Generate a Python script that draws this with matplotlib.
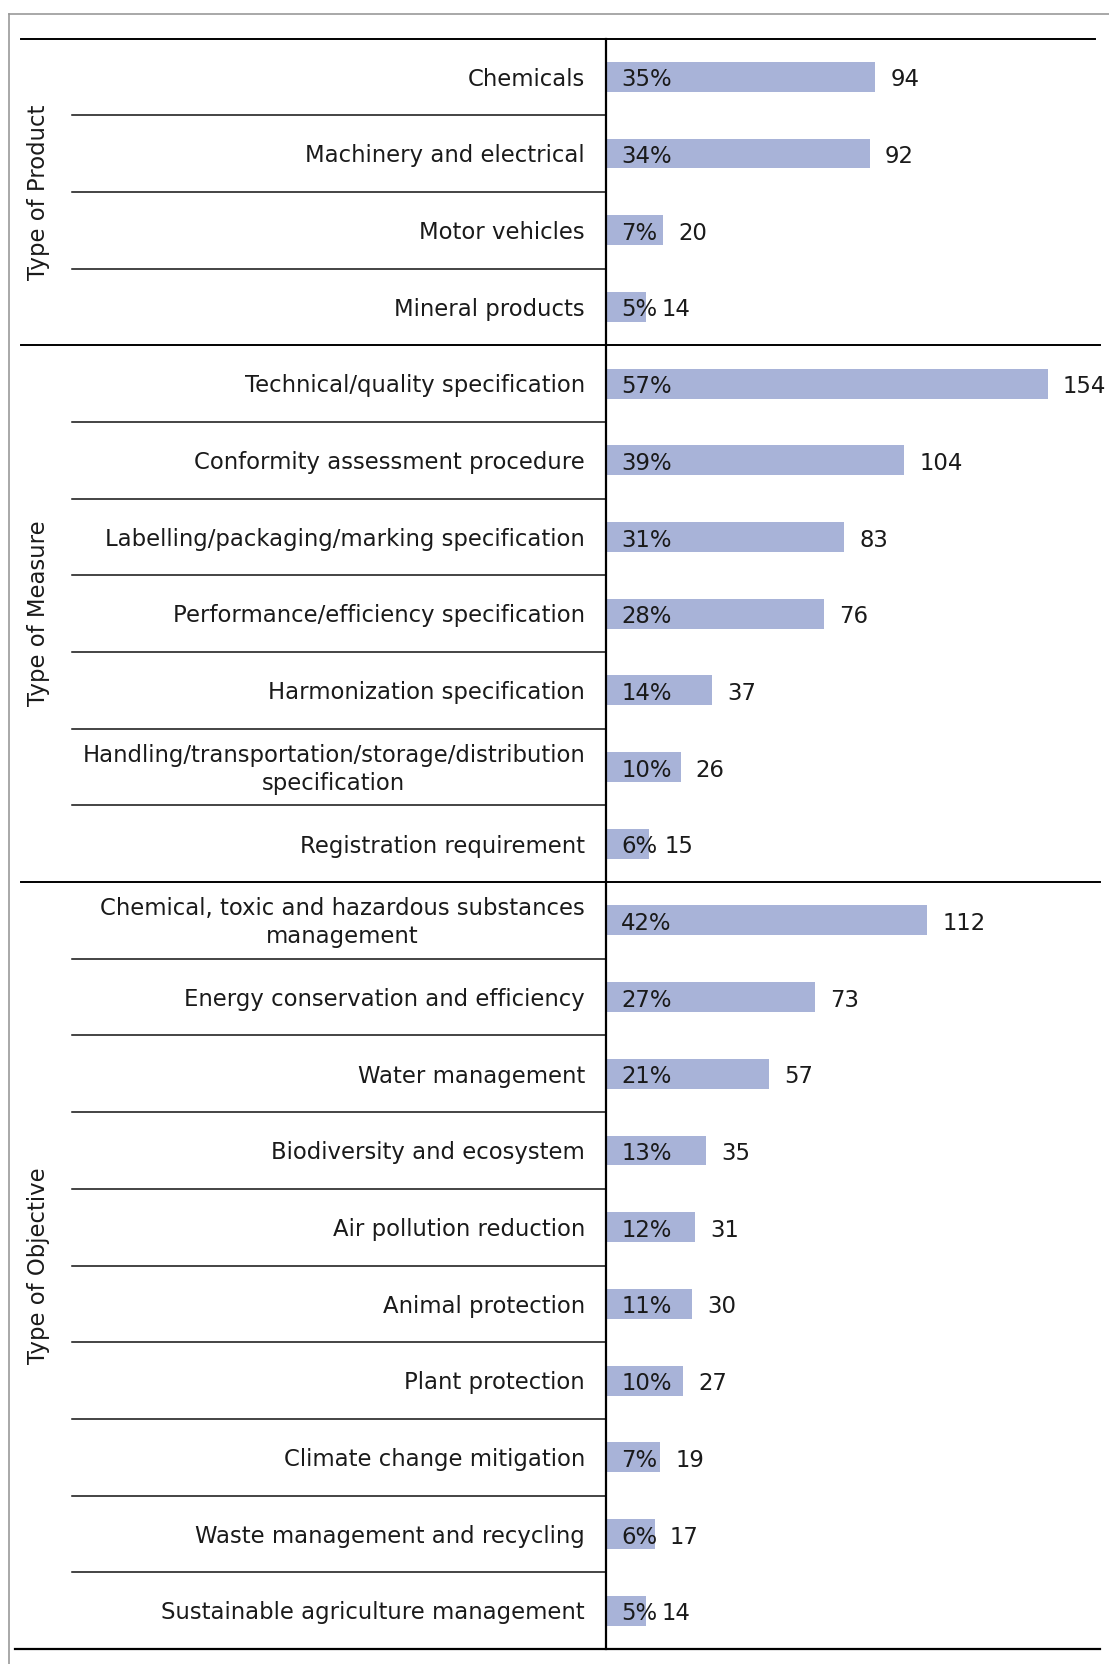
import matplotlib
matplotlib.use("Agg")
import matplotlib.pyplot as plt
import matplotlib.transforms as mtransforms

# categories top to bottom
groups = ["Type of Product", "Type of Measure", "Type of Objective"]
group_sizes = [4, 7, 10]
categories = [
    "Chemicals",
    "Machinery and electrical",
    "Motor vehicles",
    "Mineral products",
    "Technical/quality specification",
    "Conformity assessment procedure",
    "Labelling/packaging/marking specification",
    "Performance/efficiency specification",
    "Harmonization specification",
    "Handling/transportation/storage/distribution\nspecification",
    "Registration requirement",
    "Chemical, toxic and hazardous substances\nmanagement",
    "Energy conservation and efficiency",
    "Water management",
    "Biodiversity and ecosystem",
    "Air pollution reduction",
    "Animal protection",
    "Plant protection",
    "Climate change mitigation",
    "Waste management and recycling",
    "Sustainable agriculture management",
]
counts = [94, 92, 20, 14, 154, 104, 83, 76, 37, 26, 15,
          112, 73, 57, 35, 31, 30, 27, 19, 17, 14]
shares = [35, 34, 7, 5, 57, 39, 31, 28, 14, 10, 6,
          42, 27, 21, 13, 12, 11, 10, 7, 6, 5]

BAR = "#a8b3d8"
TXT = "#1a1a1a"
FS = 16.4

W, H = 1109, 1664
fig = plt.figure(figsize=(W / 100, H / 100), dpi=100)

x0, top, bottom = 606, 38.5, 1649
ax = fig.add_axes([x0 / W, 1 - bottom / H, (W - x0) / W, (bottom - top) / H])
n = len(categories)
ax.set_ylim(n, 0)
ax.set_xlim(0, (W - x0) / 2.867)
ax.axis("off")

ypos = [i + 0.5 for i in range(n)]
ax.barh(ypos, counts, height=0.39, color=BAR, zorder=2)

for y, c, s in zip(ypos, counts, shares):
    ax.text(5.3, y + 0.04, f"{s}%", ha="left", va="center", fontsize=FS, color=TXT, zorder=3)
    ax.text(c + 5.3, y + 0.04, str(c), ha="left", va="center", fontsize=FS, color=TXT, zorder=3)

# figure-x / data-y transform for labels and rules
tr = mtransforms.blended_transform_factory(fig.transFigure, ax.transData)

def fx(px):
    return px / W

for y, lab in zip(ypos, categories):
    ax.text(fx(585), y + 0.03, lab, transform=tr, ha="right", va="center",
            multialignment="center", fontsize=FS, color=TXT, linespacing=1.25)

# row separators inside groups
group_edges = [0]
for g in group_sizes:
    group_edges.append(group_edges[-1] + g)
for i in range(1, n):
    if i in group_edges:
        continue
    ax.plot([fx(72), fx(x0)], [i, i], transform=tr, color="#111111", lw=1.1, clip_on=False)

# group rules
ax.plot([fx(21), fx(1095)], [0, 0], transform=tr, color="black", lw=1.4, clip_on=False)
for e in group_edges[1:-1]:
    ax.plot([fx(21), fx(1100)], [e, e], transform=tr, color="black", lw=1.4, clip_on=False)
ax.plot([fx(15), fx(1100)], [n, n], transform=tr, color="black", lw=1.6, clip_on=False)
ax.plot([fx(x0), fx(x0)], [0, n], transform=tr, color="black", lw=1.6, clip_on=False)

# group titles
for g, a, b in zip(groups, group_edges[:-1], group_edges[1:]):
    ax.text(fx(39), (a + b) / 2, g, transform=tr, rotation=90, ha="center", va="center",
            fontsize=FS, color=TXT)

# outer grey frame (top and left only visible)
fig.add_artist(plt.Line2D([fx(9), 1], [1 - 13.5 / H, 1 - 13.5 / H], color="#999999", lw=1.2))
fig.add_artist(plt.Line2D([fx(9), fx(9)], [0, 1 - 13.5 / H], color="#999999", lw=1.2))

fig.savefig("out.png", dpi=100, facecolor="white")
